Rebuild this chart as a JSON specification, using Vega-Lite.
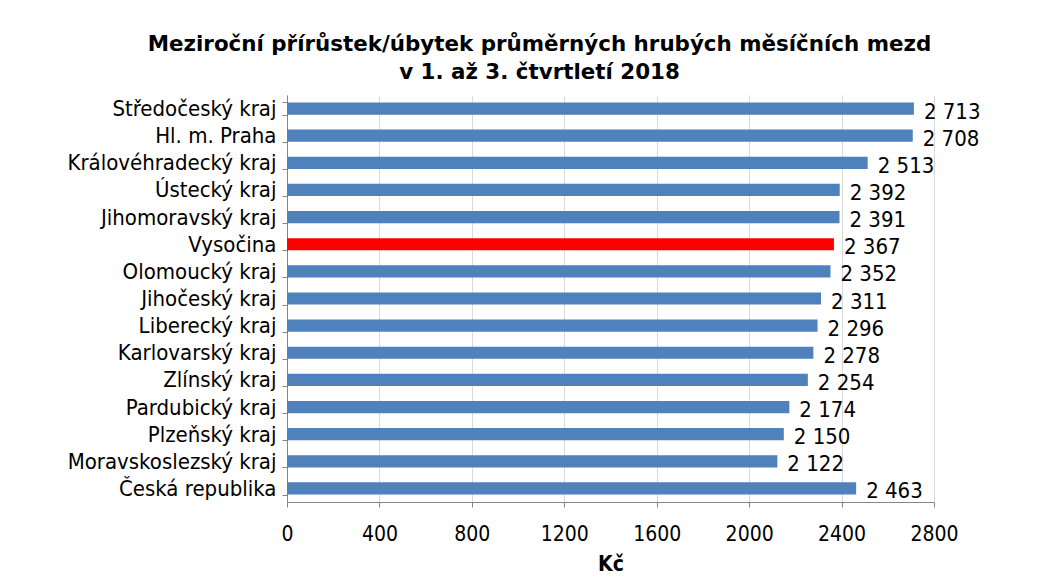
{
  "$schema": "https://vega.github.io/schema/vega-lite/v6.json",
  "autosize": "none",
  "width": 647,
  "height": 407,
  "padding": {"left": 287, "top": 95, "right": 114, "bottom": 75},
  "background": "white",
  "config": {
    "locale": {"number": {"decimal": ",", "thousands": " ", "grouping": [3], "currency": ["", " Kč"]}},
    "view": {"stroke": null},
    "font": "DejaVu Sans Condensed"
  },
  "title": {
    "text": ["Meziroční přírůstek/úbytek průměrných hrubých měsíčních mezd", "v 1. až 3. čtvrtletí 2018"],
    "font": "DejaVu Sans",
    "fontWeight": "bold",
    "fontSize": 21.4,
    "lineHeight": 28,
    "anchor": "middle",
    "frame": "group",
    "dx": -71,
    "offset": 1,
    "color": "#000000"
  },
  "data": {
    "values": [
      {"kraj": "Středočeský kraj", "hodnota": 2713, "typ": "kraj"},
      {"kraj": "Hl. m. Praha", "hodnota": 2708, "typ": "kraj"},
      {"kraj": "Královéhradecký kraj", "hodnota": 2513, "typ": "kraj"},
      {"kraj": "Ústecký kraj", "hodnota": 2392, "typ": "kraj"},
      {"kraj": "Jihomoravský kraj", "hodnota": 2391, "typ": "kraj"},
      {"kraj": "Vysočina", "hodnota": 2367, "typ": "vysocina"},
      {"kraj": "Olomoucký kraj", "hodnota": 2352, "typ": "kraj"},
      {"kraj": "Jihočeský kraj", "hodnota": 2311, "typ": "kraj"},
      {"kraj": "Liberecký kraj", "hodnota": 2296, "typ": "kraj"},
      {"kraj": "Karlovarský kraj", "hodnota": 2278, "typ": "kraj"},
      {"kraj": "Zlínský kraj", "hodnota": 2254, "typ": "kraj"},
      {"kraj": "Pardubický kraj", "hodnota": 2174, "typ": "kraj"},
      {"kraj": "Plzeňský kraj", "hodnota": 2150, "typ": "kraj"},
      {"kraj": "Moravskoslezský kraj", "hodnota": 2122, "typ": "kraj"},
      {"kraj": "Česká republika", "hodnota": 2463, "typ": "kraj"}
    ]
  },
  "encoding": {
    "y": {
      "field": "kraj",
      "type": "nominal",
      "sort": null,
      "scale": {"paddingInner": 0.55, "paddingOuter": 0.275},
      "axis": {
        "title": null,
        "tickBand": "extent",
        "labelFontSize": 22,
        "labelLimit": 0,
        "labelColor": "#000000",
        "labelPadding": 6,
        "domainColor": "#868686",
        "tickColor": "#868686",
        "tickSize": 5,
        "grid": false
      }
    },
    "x": {
      "field": "hodnota",
      "type": "quantitative",
      "scale": {"domain": [0, 2800], "nice": false},
      "axis": {
        "title": "Kč",
        "titleFontSize": 21,
        "titleFontWeight": "bold",
        "titleColor": "#000000",
        "titlePadding": 9,
        "values": [0, 400, 800, 1200, 1600, 2000, 2400, 2800],
        "format": "d",
        "labelFontSize": 21,
        "labelColor": "#000000",
        "labelPadding": 16,
        "labelFlush": false,
        "domainColor": "#868686",
        "tickColor": "#868686",
        "tickSize": 5,
        "gridColor": "#d9d9d9",
        "gridWidth": 1
      }
    }
  },
  "layer": [
    {
      "mark": {"type": "bar"},
      "encoding": {
        "color": {
          "field": "typ",
          "type": "nominal",
          "scale": {"domain": ["kraj", "vysocina"], "range": ["#4f81bd", "#ff0000"]},
          "legend": null
        }
      }
    },
    {
      "mark": {"type": "text", "align": "left", "baseline": "middle", "dx": 10, "dy": 3, "fontSize": 22, "color": "#000000"},
      "encoding": {
        "text": {"field": "hodnota", "type": "quantitative", "format": ",d"}
      }
    }
  ]
}
